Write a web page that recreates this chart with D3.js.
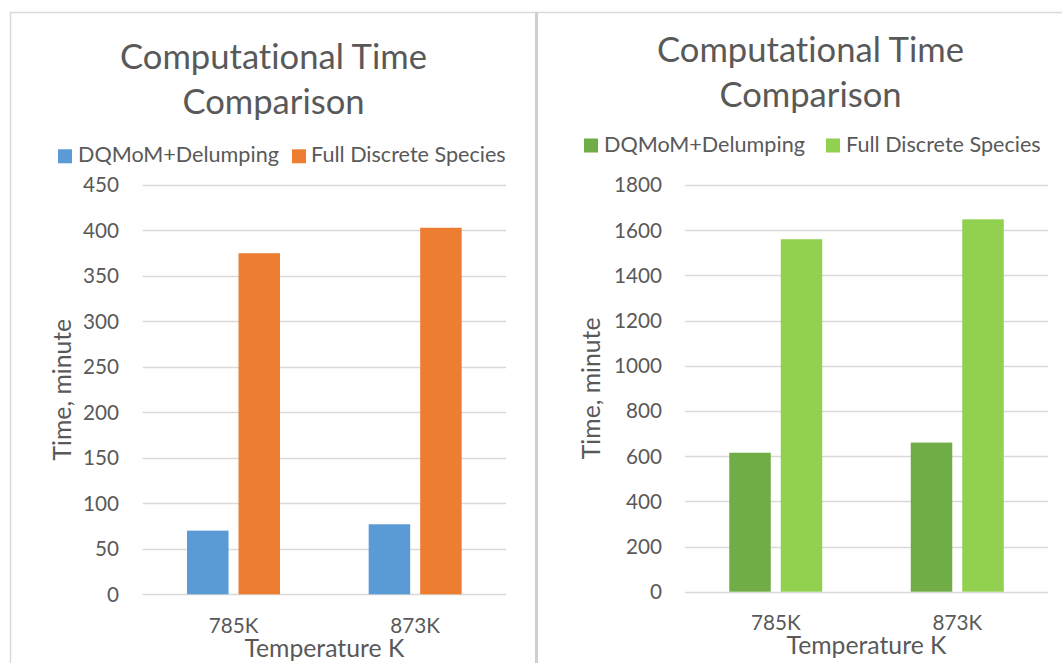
<!DOCTYPE html>
<html>
<head>
<meta charset="utf-8">
<script src="https://cdn.jsdelivr.net/npm/d3@7"></script>
<style>
  html, body { margin: 0; padding: 0; background: #ffffff; }
  svg { display: block; }
  text { font-family: Lato, "Open Sans", "Noto Sans", sans-serif; fill: #595959;
         font-variant-ligatures: none; font-feature-settings: "liga" 0, "clig" 0; }
</style>
</head>
<body>
<svg id="chart" width="1062" height="663"></svg>
<script>
// ---------------- data ----------------
const categories = ["785K", "873K"];
const seriesNames = ["DQMoM+Delumping", "Full Discrete Species"];
const chartTitle = ["Computational Time", "Comparison"];
const xAxisTitle = "Temperature K";
const yAxisTitle = "Time, minute";

// left chart
const leftDQMoM = [70, 77];
const leftFull = [375, 403];
const leftTicks = [0, 50, 100, 150, 200, 250, 300, 350, 400, 450];

// right chart
const rightDQMoM = [615, 660];
const rightFull = [1560, 1648];
const rightTicks = [0, 200, 400, 600, 800, 1000, 1200, 1400, 1600, 1800];

const leftColors = ["#5B9BD5", "#ED7D31"];
const rightColors = ["#70AD47", "#92D050"];

// ---------------- layout ----------------
const svg = d3.select("#chart");
const FONT = 'Lato, "Open Sans", "Noto Sans", sans-serif';

function fitSize(str, target) {
  const t = svg.append("text").attr("font-size", 100).style("font-family", FONT).text(str);
  const w = t.node().getComputedTextLength();
  t.remove();
  return 100 * target / w;
}
const titleSize = fitSize(chartTitle[0], 307);
const legendSize = fitSize(seriesNames[0], 201);
const tickSize = fitSize("300", 36);
const catSize = tickSize;
const axisTitleSize = fitSize(xAxisTitle, 160);

// frame
svg.append("line").attr("x1", 10).attr("x2", 1062).attr("y1", 12.5).attr("y2", 12.5)
  .attr("stroke", "#d9d9d9").attr("stroke-width", 1.5);
svg.append("line").attr("x1", 10.5).attr("x2", 10.5).attr("y1", 12).attr("y2", 663)
  .attr("stroke", "#d9d9d9").attr("stroke-width", 1.5);
svg.append("line").attr("x1", 536.5).attr("x2", 536.5).attr("y1", 12).attr("y2", 663)
  .attr("stroke", "#cfcfcf").attr("stroke-width", 3);

const charts = [
  {
    values: [leftDQMoM, leftFull], ticks: leftTicks, colors: leftColors,
    plot: { x0: 142.7, x1: 506, yZero: 594.3, yTop: 185 },
    title: { cx: 273.5, b1: 68.5, b2: 113.5 },
    legend: { sq: [58, 292], tx: [78, 311], base: 162.3, sqTop: 149.3 },
    tickRight: 119, catBase: 632.7, xTitleBase: 657, yTitleX: 71
  },
  {
    values: [rightDQMoM, rightFull], ticks: rightTicks, colors: rightColors,
    plot: { x0: 685, x1: 1048, yZero: 591.7, yTop: 185 },
    title: { cx: 810.5, b1: 62, b2: 107 },
    legend: { sq: [584, 826], tx: [604, 846], base: 151.7, sqTop: 138.5 },
    tickRight: 662, catBase: 630, xTitleBase: 653.5, yTitleX: 600
  }
];

charts.forEach(c => {
  const g = svg.append("g");
  const p = c.plot;
  const x = d3.scaleBand().domain(categories).range([p.x0, p.x1]);
  const y = d3.scaleLinear().domain([0, d3.max(c.ticks)]).range([p.yZero, p.yTop]);
  const groupW = 93;
  const xs = d3.scaleBand().domain(seriesNames).range([0, groupW]).paddingInner(0.194);

  // gridlines
  g.append("g").selectAll("line").data(c.ticks).join("line")
    .attr("x1", p.x0).attr("x2", p.x1)
    .attr("y1", d => Math.round(y(d)) + 0.5).attr("y2", d => Math.round(y(d)) + 0.5)
    .attr("stroke", "#d9d9d9").attr("stroke-width", 1.4);

  // y tick labels
  g.append("g").selectAll("text").data(c.ticks).join("text")
    .attr("x", c.tickRight).attr("y", d => y(d)).attr("dy", "0.36em")
    .attr("text-anchor", "end").attr("font-size", tickSize)
    .text(d => d);

  // bars
  seriesNames.forEach((s, si) => {
    g.append("g").selectAll("rect").data(categories).join("rect")
      .attr("x", (d) => x(d) + x.bandwidth() / 2 - groupW / 2 + xs(s))
      .attr("width", xs.bandwidth())
      .attr("y", (d, i) => y(c.values[si][i]))
      .attr("height", (d, i) => y(0) - y(c.values[si][i]))
      .attr("fill", c.colors[si]);
  });

  // category labels
  g.append("g").selectAll("text").data(categories).join("text")
    .attr("x", d => x(d) + x.bandwidth() / 2).attr("y", c.catBase)
    .attr("text-anchor", "middle").attr("font-size", catSize)
    .text(d => d);

  // x axis title
  g.append("text").attr("x", (p.x0 + p.x1) / 2).attr("y", c.xTitleBase)
    .attr("text-anchor", "middle").attr("font-size", axisTitleSize).text(xAxisTitle);

  // y axis title
  g.append("text")
    .attr("transform", `translate(${c.yTitleX},${(p.yZero + p.yTop) / 2}) rotate(-90)`)
    .attr("text-anchor", "middle").attr("font-size", axisTitleSize).text(yAxisTitle);

  // title
  g.append("text").attr("x", c.title.cx).attr("y", c.title.b1)
    .attr("text-anchor", "middle").attr("font-size", titleSize).text(chartTitle[0]);
  g.append("text").attr("x", c.title.cx).attr("y", c.title.b2)
    .attr("text-anchor", "middle").attr("font-size", titleSize).text(chartTitle[1]);

  // legend
  seriesNames.forEach((s, si) => {
    g.append("rect").attr("x", c.legend.sq[si]).attr("y", c.legend.sqTop)
      .attr("width", 14).attr("height", 14).attr("fill", c.colors[si]);
    g.append("text").attr("x", c.legend.tx[si]).attr("y", c.legend.base)
      .attr("font-size", legendSize).text(s);
  });
});
</script>
</body>
</html>
